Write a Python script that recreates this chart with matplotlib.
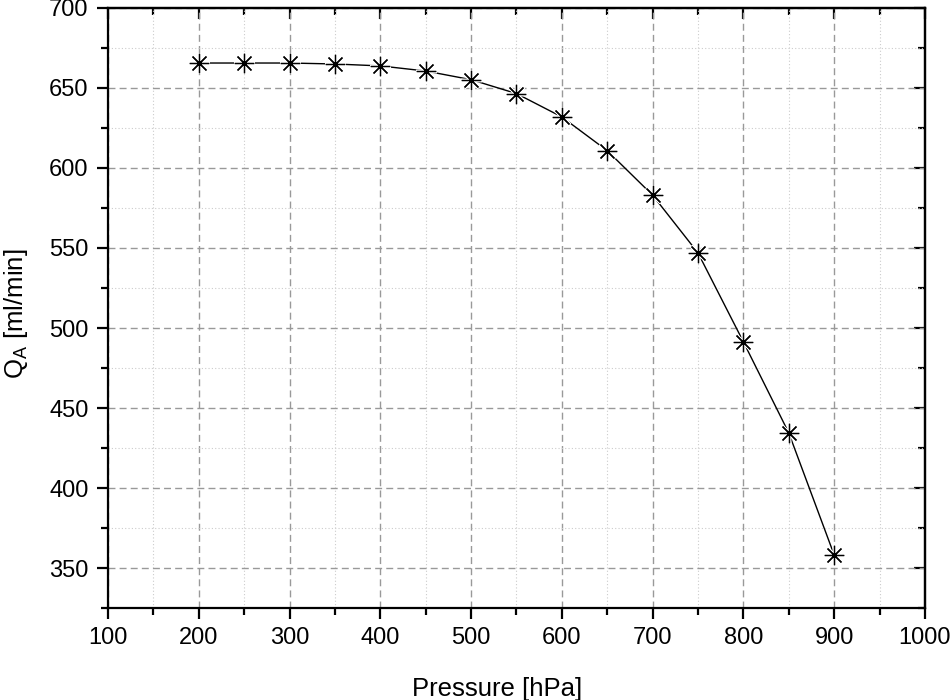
import numpy as np
import matplotlib
matplotlib.use('Agg')
import matplotlib.pyplot as plt
from matplotlib.ticker import MultipleLocator

plt.rcParams['font.family'] = ['Liberation Sans', 'DejaVu Sans']
plt.rcParams['mathtext.fontset'] = 'custom'
plt.rcParams['mathtext.rm'] = 'Liberation Sans'

pressure = [200, 250, 300, 350, 400, 450, 500, 550, 600, 650, 700, 750, 800, 850, 900]
flow = [665.6, 665.6, 665.6, 665.0, 663.8, 660.6, 655.2, 646.5, 631.9, 610.8,
        583.0, 546.9, 491.3, 434.4, 358.1]

fig = plt.figure(figsize=(9.53, 7.0), dpi=100)
ax = fig.add_axes([0.1133, 0.1314, 0.8573, 0.8572])

ax.plot(pressure, flow, color='black', lw=1.0, zorder=3)
# white halo so the line stops short of the markers
ax.plot(pressure, flow, linestyle='None', marker=(8, 2, 0), markersize=15,
        markeredgecolor='white', markeredgewidth=2.5, zorder=4)
ax.plot(pressure, flow, linestyle='None', marker=(8, 2, 0), markersize=14,
        markeredgecolor='black', markeredgewidth=0.9, zorder=5)

ax.set_xlim(100, 1000)
ax.set_ylim(325, 700)
ax.xaxis.set_major_locator(MultipleLocator(100))
ax.xaxis.set_minor_locator(MultipleLocator(50))
ax.yaxis.set_major_locator(MultipleLocator(50))
ax.yaxis.set_minor_locator(MultipleLocator(25))

ax.grid(which='major', color='#999999', linestyle=(0, (5, 3)), lw=1.0)
ax.grid(which='minor', color='#cccccc', linestyle=(0, (1, 2)), lw=0.8)
ax.set_axisbelow(True)

for s in ax.spines.values():
    s.set_linewidth(1.6)

ax.tick_params(which='major', direction='out', length=8, width=1.6, labelsize=17, pad=6)
ax.tick_params(which='minor', direction='out', length=5, width=1.6)

top = ax.secondary_xaxis('top')
top.xaxis.set_major_locator(MultipleLocator(100))
top.xaxis.set_minor_locator(MultipleLocator(50))
top.tick_params(which='major', direction='in', length=8, width=1.6, labeltop=False)
top.tick_params(which='minor', direction='in', length=5, width=1.6)
top.spines['top'].set_linewidth(1.6)

right = ax.secondary_yaxis('right')
right.yaxis.set_major_locator(MultipleLocator(50))
right.yaxis.set_minor_locator(MultipleLocator(25))
right.tick_params(which='major', direction='in', length=8, width=1.6, labelright=False)
right.tick_params(which='minor', direction='in', length=5, width=1.6)
right.spines['right'].set_linewidth(1.6)

ax.set_xlabel('Pressure [hPa]', fontsize=18.5)
ax.set_ylabel(r'Q$_\mathregular{A}$ [ml/min]', fontsize=18.5)
ax.xaxis.set_label_coords(0.476, -0.115)
ax.yaxis.set_label_coords(-0.095, 0.49)

fig.savefig('out.png', dpi=100)
